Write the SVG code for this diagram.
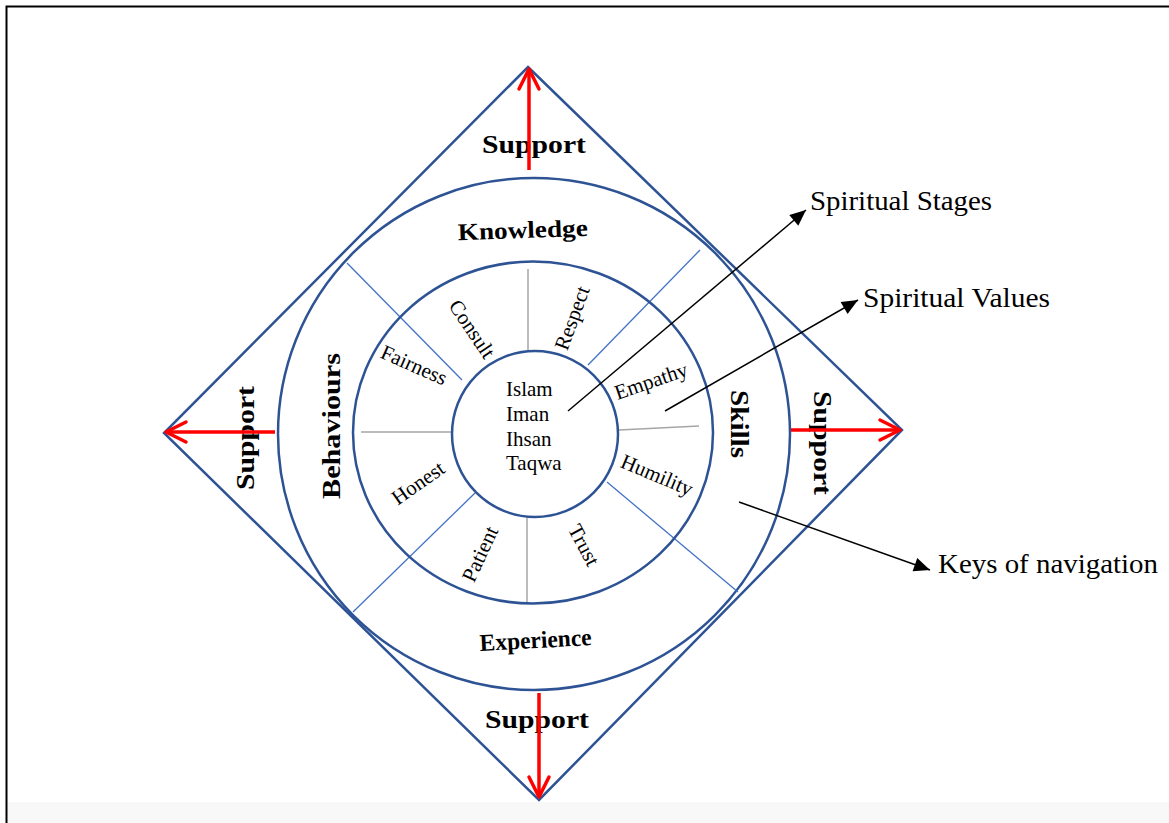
<svg xmlns="http://www.w3.org/2000/svg" width="1169" height="823" viewBox="0 0 1169 823">
<style>
.frame{stroke:#000;stroke-width:2;fill:none}
.main{stroke:#2E5395;stroke-width:2.5;fill:none}
.div{stroke:#4472C4;stroke-width:1.3;fill:none}
.spoke{stroke:#A6A6A6;stroke-width:1.5;fill:none}
.red{stroke:#FF0000;stroke-width:3.5;fill:none;marker-end:url(#rh)}
.blk{stroke:#000;stroke-width:1.5;fill:none;marker-end:url(#bh)}
.b{font-family:"Liberation Serif","Times New Roman",serif;font-weight:bold;fill:#000;text-anchor:middle}
.v{font-family:"Liberation Serif","Times New Roman",serif;font-size:21px;fill:#000;text-anchor:middle}
.c{font-family:"Liberation Serif","Times New Roman",serif;font-size:21px;fill:#000}
.lbl{font-family:"Liberation Serif","Times New Roman",serif;fill:#000}
</style>
<defs>
<marker id="rh" markerUnits="userSpaceOnUse" viewBox="-24 -14 28 28" refX="0" refY="0" markerWidth="28" markerHeight="28" orient="auto" overflow="visible">
<path d="M-20,-10 L0,0 L-20,10" fill="none" stroke="#FF0000" stroke-width="3.5" stroke-linecap="round" stroke-linejoin="round"/>
</marker>
<marker id="bh" markerUnits="userSpaceOnUse" viewBox="-17 -8 18 16" refX="0" refY="0" markerWidth="18" markerHeight="16" orient="auto" overflow="visible">
<path d="M-16,-7 L0,0 L-16,7 Z" fill="#000"/>
</marker>
</defs>
<rect x="0" y="0" width="1169" height="823" fill="#fff"/>
<rect x="7" y="802" width="1162" height="21" fill="#F8F8F8"/>
<path class="frame" d="M6.5,823 V6.5 H1169"/>

<g id="diamond">
<polygon class="main" points="528,67 902,430 539,800 164,433"/>
</g>
<g id="outer-ring">
<circle class="main" cx="534" cy="434" r="256"/>
<line class="div" x1="347" y1="263" x2="462" y2="380"/>
<line class="div" x1="700" y1="250" x2="588" y2="365"/>
<line class="div" x1="607" y1="482" x2="738" y2="592"/>
<line class="div" x1="475" y1="493" x2="353" y2="612"/>
</g>
<g id="middle-ring">
<ellipse class="main" cx="533" cy="432.5" rx="180" ry="171"/>
<line class="spoke" x1="528" y1="269" x2="528" y2="351"/>
<line class="spoke" x1="527" y1="518" x2="527" y2="602"/>
<line class="spoke" x1="361" y1="432" x2="452" y2="432"/>
<line class="spoke" x1="619" y1="430" x2="699" y2="426"/>
</g>
<g id="inner-circle">
<circle class="main" cx="535" cy="434" r="83"/>
<text class="c" x="506" y="396">Islam</text>
<text class="c" x="506" y="421">Iman</text>
<text class="c" x="506" y="446">Ihsan</text>
<text class="c" x="506" y="470">Taqwa</text>
</g>

<g id="values">
<text class="v" transform="translate(472,329) rotate(56)" y="7">Consult</text>
<text class="v" transform="translate(572,318) rotate(-70)" y="7">Respect</text>
<text class="v" transform="translate(414,365) rotate(24)" y="7">Fairness</text>
<text class="v" transform="translate(651,381) rotate(-19)" y="7">Empathy</text>
<text class="v" transform="translate(418,483) rotate(-35)" y="7">Honest</text>
<text class="v" transform="translate(657,475) rotate(23)" y="7">Humility</text>
<text class="v" transform="translate(480,554) rotate(-65)" y="7">Patient</text>
<text class="v" transform="translate(584,545) rotate(62)" y="7">Trust</text>
</g>

<g id="keys">
<text class="b" font-size="24" transform="translate(523,238) rotate(-2)" textLength="130" lengthAdjust="spacingAndGlyphs">Knowledge</text>
<text class="b" font-size="26" transform="translate(331,426) rotate(-90)" y="9" textLength="146" lengthAdjust="spacingAndGlyphs">Behaviours</text>
<text class="b" font-size="26" transform="translate(740,424) rotate(90)" y="9" textLength="68" lengthAdjust="spacingAndGlyphs">Skills</text>
<text class="b" font-size="24" transform="translate(536,648) rotate(-3)" textLength="112" lengthAdjust="spacingAndGlyphs">Experience</text>
</g>

<g id="support">
<text class="b" font-size="25" x="534" y="153" textLength="104" lengthAdjust="spacingAndGlyphs">Support</text>
<text class="b" font-size="25" x="537" y="728" textLength="104" lengthAdjust="spacingAndGlyphs">Support</text>
<text class="b" font-size="25" transform="translate(246,438) rotate(-90)" y="8" textLength="104" lengthAdjust="spacingAndGlyphs">Support</text>
<text class="b" font-size="25" transform="translate(822,443) rotate(90)" y="8" textLength="104" lengthAdjust="spacingAndGlyphs">Support</text>
</g>

<g id="legend">
<text class="lbl" font-size="28" x="810" y="210" textLength="182" lengthAdjust="spacingAndGlyphs">Spiritual Stages</text>
<text class="lbl" font-size="28" x="863" y="307" textLength="187" lengthAdjust="spacingAndGlyphs">Spiritual Values</text>
<text class="lbl" font-size="28" x="938" y="573" textLength="220" lengthAdjust="spacingAndGlyphs">Keys of navigation</text>
</g>

<g id="connectors">
<line class="red" x1="529" y1="170" x2="529" y2="69"/>
<line class="red" x1="275" y1="432" x2="166" y2="432"/>
<line class="red" x1="791" y1="430" x2="900" y2="430"/>
<line class="red" x1="539" y1="693" x2="539" y2="797"/>
<line class="blk" x1="568" y1="411" x2="806" y2="210"/>
<line class="blk" x1="665" y1="411" x2="858" y2="300"/>
<line class="blk" x1="739" y1="502" x2="930" y2="570"/>
</g>
</svg>
